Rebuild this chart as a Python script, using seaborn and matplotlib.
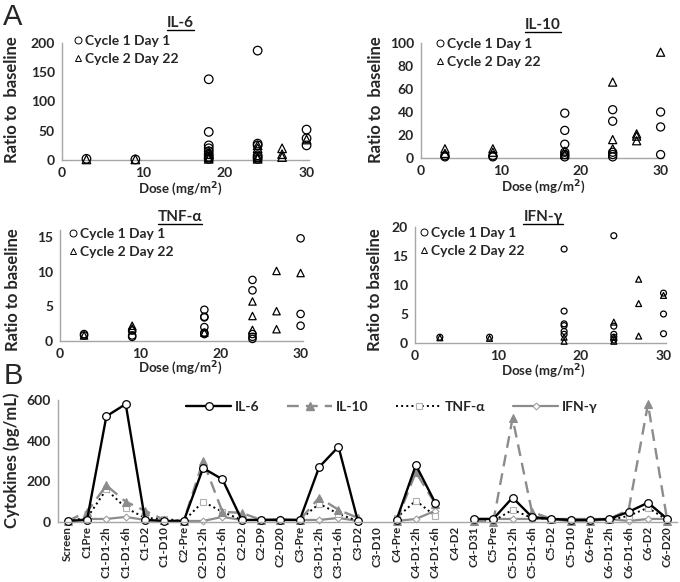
import numpy as np
import pandas as pd
import matplotlib
matplotlib.use("Agg")
import matplotlib.pyplot as plt
from matplotlib.lines import Line2D
import seaborn as sns

# ---- panel A: ratio to baseline vs dose ----
il6_c1_dose = [3, 9, 18, 18, 18, 18, 18, 18, 18, 18, 24, 24, 24, 24, 24, 24, 30, 30, 30]
il6_c1_val = [2, 1, 138, 48, 25, 20, 15, 10, 5, 2, 187, 28, 25, 8, 5, 2, 52, 37, 25]
il6_c2_dose = [3, 9, 18, 18, 18, 18, 24, 24, 24, 24, 27, 27, 27, 30]
il6_c2_val = [1, 1, 15, 10, 5, 2, 25, 20, 5, 2, 20, 10, 5, 35]

il10_c1_dose = [3, 3, 9, 9, 18, 18, 18, 18, 18, 18, 24, 24, 24, 24, 24, 30, 30, 30]
il10_c1_val = [2, 1, 2, 1, 39, 24, 12, 5, 3, 1, 42, 32, 5, 3, 1, 40, 27, 3]
il10_c2_dose = [3, 3, 9, 9, 18, 18, 24, 24, 24, 27, 27, 27, 30]
il10_c2_val = [8, 4, 8, 5, 6, 3, 66, 16, 8, 21, 19, 15, 92]

tnf_c1_dose = [3, 3, 9, 9, 9, 18, 18, 18, 18, 18, 18, 24, 24, 24, 24, 24, 30, 30, 30]
tnf_c1_val = [1.0, 0.8, 1.5, 0.8, 0.6, 4.5, 3.5, 3.4, 2.0, 1.2, 1.0, 8.8, 7.3, 1.0, 0.6, 0.3, 14.8, 3.9, 2.2]
tnf_c2_dose = [3, 9, 9, 18, 24, 24, 24, 27, 27, 27, 30]
tnf_c2_val = [0.8, 2.2, 1.8, 1.2, 5.7, 3.6, 1.6, 10.1, 4.3, 1.7, 9.8]

ifn_c1_dose = [3, 9, 18, 18, 18, 18, 18, 18, 24, 24, 24, 24, 24, 30, 30, 30]
ifn_c1_val = [1.0, 1.0, 16.2, 5.5, 3.3, 3.0, 2.0, 1.5, 18.5, 2.9, 1.5, 1.0, 0.5, 8.6, 5.0, 1.6]
ifn_c2_dose = [3, 9, 18, 18, 24, 24, 24, 27, 27, 27, 30]
ifn_c2_val = [0.9, 0.8, 1.0, 0.3, 3.6, 1.0, 0.3, 11.0, 6.8, 1.2, 8.2]

cycle_labels = ["Cycle 1 Day 1", "Cycle 2 Day 22"]

# ---- panel B: cytokine time course ----
timepoints = ["Screen", "C1Pre", "C1-D1-2h", "C1-D1-6h", "C1-D2", "C1-D10",
              "C2-Pre", "C2-D1-2h", "C2-D1-6h", "C2-D2", "C2-D9", "C2-D20",
              "C3-Pre", "C3-D1-2h", "C3-D1-6h", "C3-D2", "C3-D10",
              "C4-Pre", "C4-D1-2h", "C4-D1-6h", "C4-D2", "C4-D31",
              "C5-Pre", "C5-D1-2h", "C5-D1-6h", "C5-D2", "C5-D10",
              "C6-Pre", "C6-D1-2h", "C6-D1-6h", "C6-D2", "C6-D20"]
nan = np.nan
il6_pg = [5, 10, 520, 580, 10, 5, 5, 265, 210, 10, 10, 10, 10, 270, 370, 5, nan,
          10, 280, 95, nan, 15, 15, 120, 25, 15, 10, 10, 15, 50, 95, 15]
il10_pg = [5, 50, 180, 100, 55, 10, 5, 300, 50, 45, 10, 10, 10, 120, 60, 20, nan,
           5, 245, 90, nan, 5, 2, 510, 50, 15, 3, 5, 15, 60, 580, 5]
tnf_pg = [5, 20, 160, 70, 20, 15, 5, 100, 50, 10, 10, 10, 10, 90, 40, 5, nan,
          20, 105, 30, nan, 10, 5, 60, 20, 15, 10, 10, 10, 30, 70, 10]
ifn_pg = [5, 15, 15, 25, 10, 5, 5, 5, 25, 10, 10, 15, 10, 10, 20, 5, nan,
          5, 15, 55, nan, 15, 15, 15, 15, 15, 15, 15, 15, 5, 15, 15]

W, H = 680, 582
FONT = ["Lato", "DejaVu Sans"]
sns.set_style("white")
plt.rcParams["font.family"] = FONT
plt.rcParams["font.weight"] = "bold"
SPINE = "#a6a6a6"

fig = plt.figure(figsize=(W / 100, H / 100), dpi=100)


def rect(x0, ytop, x1, ybot):
    return [x0 / W, 1 - ybot / H, (x1 - x0) / W, (ybot - ytop) / H]


def ftext(x, y, s, **kw):
    return fig.text(x / W, 1 - y / H, s, **kw)


def style_axes(ax, size=10):
    sns.despine(ax=ax)
    for sp in ["left", "bottom"]:
        ax.spines[sp].set_color(SPINE)
        ax.spines[sp].set_linewidth(1.0)
    ax.tick_params(axis="both", direction="out", length=3, width=1, color=SPINE,
                   labelsize=size, pad=2)
    for lab in ax.get_xticklabels() + ax.get_yticklabels():
        lab.set_fontweight("bold")


panels = [
    ("IL-6", il6_c1_dose, il6_c1_val, il6_c2_dose, il6_c2_val,
     rect(62, 43, 309, 160), 200, [0, 50, 100, 150, 200], 38,
     (180, 23), (12, 100), (180, 189), (74, 35), "Ratio to  baseline"),
    ("IL-10", il10_c1_dose, il10_c1_val, il10_c2_dose, il10_c2_val,
     rect(421, 43, 663, 158), 100, [0, 20, 40, 60, 80, 100], 34,
     (543, 25), (376, 100), (543, 187), (436, 38), "Ratio to  baseline"),
    ("TNF-α", tnf_c1_dose, tnf_c1_val, tnf_c2_dose, tnf_c2_val,
     rect(60, 230, 303, 341), 16, [0, 5, 10, 15], 28,
     (180, 217), (13, 290), (180, 368), (69, 228), "Ratio to baseline"),
    ("IFN-γ", ifn_c1_dose, ifn_c1_val, ifn_c2_dose, ifn_c2_val,
     rect(415, 227, 666, 343), 20, [0, 5, 10, 15, 20], 18,
     (543, 217), (375, 290), (543, 371), (420, 227), "Ratio to baseline"),
]

titles = []
for (name, d1, v1, d2, v2, r, ymax, yt, s, tpos, ylpos, xlpos, legpos, ylab) in panels:
    ax = fig.add_axes(r)
    df = pd.concat([
        pd.DataFrame({"dose": d1, "ratio": v1, "cycle": cycle_labels[0]}),
        pd.DataFrame({"dose": d2, "ratio": v2, "cycle": cycle_labels[1]}),
    ])
    for cyc, mk in zip(cycle_labels, ["o", "^"]):
        sns.scatterplot(data=df[df["cycle"] == cyc], x="dose", y="ratio",
                        marker=mk, s=s, color="black", facecolor="none",
                        edgecolor="black", linewidth=0.9, clip_on=False,
                        legend=False, ax=ax, zorder=3)
    ax.set_xlim(0, 30.3)
    ax.set_ylim(0, ymax)
    ax.set_xticks([0, 10, 20, 30])
    ax.set_yticks(yt)
    ax.set_xlabel("")
    ax.set_ylabel("")
    style_axes(ax)
    handles = [Line2D([], [], linestyle="none", marker=m, markersize=5,
                      markerfacecolor="none", markeredgecolor="black",
                      markeredgewidth=0.7) for m in ["o", "^"]]
    ax.legend(handles, cycle_labels, loc="upper left", frameon=False,
              bbox_to_anchor=(legpos[0] / W, 1 - legpos[1] / H),
              bbox_transform=fig.transFigure, handlelength=0.6,
              handletextpad=0.2, labelspacing=0.45, borderpad=0,
              borderaxespad=0, prop={"weight": "bold", "size": 10})
    t = ftext(tpos[0], tpos[1], name, ha="center", va="center",
              fontsize=11, fontweight="bold")
    titles.append(t)
    ftext(ylpos[0], ylpos[1], ylab, rotation=90, ha="center", va="center",
          fontsize=12, fontweight="bold")
    ftext(xlpos[0], xlpos[1], "Dose (mg/m$^2$)", ha="center", va="center",
          fontsize=9.5, fontweight="bold")

# ---- panel B ----
axb = fig.add_axes(rect(58, 400, 677, 522))
pos = np.arange(len(timepoints))
seg = np.cumsum(np.isnan(np.array(il6_pg, dtype=float)))
series = [
    ("IL-6", il6_pg, dict(color="black", linestyle="-", linewidth=1.7, marker="o",
                          markersize=5.5, markerfacecolor="white",
                          markeredgecolor="black", markeredgewidth=0.9)),
    ("IL-10", il10_pg, dict(color="#8c8c8c", linestyle=(0, (5, 3)), linewidth=1.7,
                            marker="^", markersize=5.5, markerfacecolor="#8c8c8c",
                            markeredgecolor="#8c8c8c")),
    ("TNF-α", tnf_pg, dict(color="black", linestyle=":", linewidth=1.4, marker="s",
                           markersize=5, markerfacecolor="white",
                           markeredgecolor="#b0b0b0", markeredgewidth=0.8)),
    ("IFN-γ", ifn_pg, dict(color="#8c8c8c", linestyle="-", linewidth=1.6, marker="D",
                           markersize=3.5, markerfacecolor="white",
                           markeredgecolor="#a0a0a0", markeredgewidth=0.8)),
]
for name, vals, kw in series[::-1]:
    d = pd.DataFrame({"t": pos, "pg": vals, "seg": seg}).dropna()
    sns.lineplot(data=d, x="t", y="pg", units="seg", estimator=None, ax=axb,
                 legend=False, clip_on=False, **kw)
axb.set_xlim(-0.5, len(timepoints) - 0.5)
axb.set_ylim(0, 600)
axb.set_yticks([0, 200, 400, 600])
axb.set_xticks(pos)
axb.set_xticklabels(timepoints, rotation=90)
axb.set_xticks(np.arange(-0.5, len(timepoints)), minor=True)
axb.set_xlabel("")
axb.set_ylabel("")
style_axes(axb)
axb.tick_params(axis="x", which="major", length=0, labelsize=8.3, pad=3)
axb.tick_params(axis="x", which="minor", length=4, width=1, color=SPINE)
leg_handles = [Line2D([], [], **kw) for _, _, kw in series]
axb.legend(leg_handles, [s[0] for s in series], ncol=4, loc="center",
           bbox_to_anchor=(392 / W, 1 - 407 / H), bbox_transform=fig.transFigure,
           frameon=False, handlelength=3.2, handletextpad=0.3, columnspacing=2.0,
           prop={"weight": "bold", "size": 10})
ftext(12, 460, "Cytokines (pg/mL)", rotation=90, ha="center", va="center",
      fontsize=12, fontweight="bold")

# panel letters
ftext(13, 17, "A", ha="center", va="center", fontsize=21, fontweight="normal",
      family=["Liberation Sans", "DejaVu Sans"])
ftext(13, 376, "B", ha="center", va="center", fontsize=21, fontweight="normal",
      family=["Liberation Sans", "DejaVu Sans"])

# underline the panel titles
fig.canvas.draw()
for t in titles:
    bb = t.get_window_extent()
    y = bb.y0
    fig.add_artist(Line2D([bb.x0 / W, bb.x1 / W], [y / H, y / H],
                          transform=fig.transFigure, color="black", linewidth=1))

fig.savefig("out.png", dpi=100)
